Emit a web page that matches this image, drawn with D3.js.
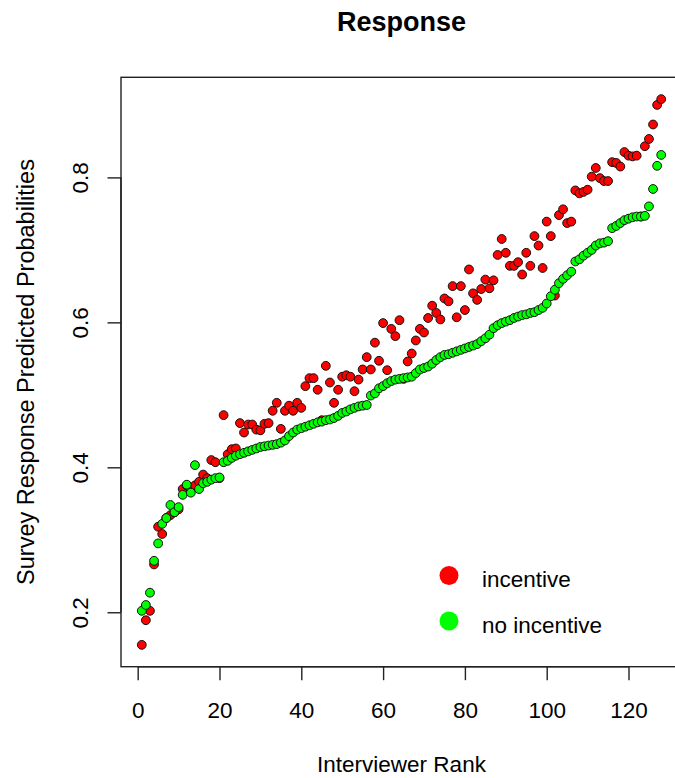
<!DOCTYPE html>
<html>
<head>
<meta charset="utf-8">
<script src="https://cdn.jsdelivr.net/npm/d3@7"></script>
<style>
  body { margin: 0; background: #fff; }
  text { font-family: "Liberation Sans", Arial, sans-serif; fill: #000; }
</style>
</head>
<body>
<script>
const width = 675;
const height = 778;

// predicted probabilities (interviewers 1..128)
var incentive = [
  0.155, 0.189, 0.202, 0.266, 0.318, 0.308, 0.330, 0.334, 0.338, 0.342,
  0.370, 0.375, 0.370, 0.375, 0.380, 0.390, 0.385, 0.410, 0.407, 0.385,
  0.472, 0.418, 0.425, 0.426, 0.461, 0.448, 0.459, 0.459, 0.452, 0.451,
  0.460, 0.461, 0.478, 0.489, 0.453, 0.478, 0.485, 0.478, 0.489, 0.482,
  0.512, 0.523, 0.523, 0.507, 0.465, 0.540, 0.517, 0.489, 0.507, 0.525,
  0.527, 0.525, 0.505, 0.521, 0.535, 0.552, 0.535, 0.572, 0.547, 0.599,
  0.534, 0.591, 0.581, 0.603, 0.522, 0.546, 0.557, 0.575, 0.591, 0.586,
  0.606, 0.623, 0.613, 0.604, 0.633, 0.629, 0.650, 0.607, 0.650, 0.617,
  0.673, 0.640, 0.631, 0.646, 0.659, 0.647, 0.658, 0.693, 0.715, 0.696,
  0.678, 0.678, 0.683, 0.666, 0.696, 0.678, 0.719, 0.706, 0.675, 0.739,
  0.719, 0.637, 0.748, 0.756, 0.737, 0.739, 0.782, 0.778, 0.780, 0.783,
  0.801, 0.813, 0.799, 0.795, 0.795, 0.821, 0.820, 0.815, 0.835, 0.830,
  0.829, 0.830, 0.746, 0.843, 0.853, 0.873, 0.900, 0.908
];
var noIncentive = [
  0.202, 0.210, 0.227, 0.271, 0.295, 0.322, 0.330, 0.348, 0.338, 0.345,
  0.362, 0.376, 0.365, 0.403, 0.370, 0.378, 0.380, 0.383, 0.385, 0.386,
  0.407, 0.409, 0.413, 0.416, 0.418, 0.420, 0.422, 0.424, 0.426, 0.428,
  0.429, 0.430, 0.431, 0.432, 0.434, 0.437, 0.443, 0.448, 0.452, 0.454,
  0.456, 0.458, 0.460, 0.462, 0.463, 0.465, 0.466, 0.468, 0.471, 0.475,
  0.477, 0.480, 0.482, 0.484, 0.485, 0.486, 0.499, 0.502, 0.509, 0.512,
  0.516, 0.519, 0.521, 0.522, 0.523, 0.524, 0.525, 0.530, 0.535, 0.537,
  0.539, 0.543, 0.548, 0.552, 0.555, 0.556, 0.558, 0.560, 0.562, 0.564,
  0.566, 0.568, 0.570, 0.574, 0.578, 0.583, 0.592, 0.596, 0.599, 0.601,
  0.603, 0.606, 0.608, 0.610, 0.611, 0.613, 0.614, 0.617, 0.620, 0.626,
  0.636, 0.645, 0.654, 0.660, 0.665, 0.670, 0.684, 0.687, 0.692, 0.696,
  0.700, 0.706, 0.709, 0.710, 0.712, 0.730, 0.733, 0.737, 0.741, 0.743,
  0.745, 0.746, 0.746, 0.747, 0.760, 0.784, 0.816, 0.831
];
var rank = d3.range(1, incentive.length + 1);

var xTicks = [0, 20, 40, 60, 80, 100, 120];
var yTicks = [0.2, 0.4, 0.6, 0.8];
var seriesNames = ["incentive", "no incentive"];
var seriesColors = ["#ff0000", "#00ff00"];

const plotLeft = 121, plotRight = 682, plotTop = 77.3, plotBottom = 666.7;
const fontSize = 22.5;

var svgContainer = d3
  .select("body")
  .append("svg")
  .attr("width", width)
  .attr("height", height);

// R style 4% padding on both axes
var xr = d3.extent(rank);
var xpad = (xr[1] - xr[0]) * 0.04;
var x = d3.scaleLinear().domain([xr[0] - xpad, xr[1] + xpad]).range([plotLeft, plotRight]);

var yr = d3.extent(incentive.concat(noIncentive));
var ypad = (yr[1] - yr[0]) * 0.04;
var y = d3.scaleLinear().domain([yr[0] - ypad, yr[1] + ypad]).range([plotBottom, plotTop]);

// points: incentive first, no incentive drawn over it
[incentive, noIncentive].forEach(function(vals, k) {
  svgContainer
    .append("g")
    .selectAll("circle")
    .data(vals)
    .enter()
    .append("circle")
    .attr("cx", (d, i) => x(rank[i]))
    .attr("cy", d => y(d))
    .attr("r", 4.4)
    .attr("fill", seriesColors[k])
    .attr("stroke", "#111")
    .attr("stroke-width", 1);
});

// box
svgContainer
  .append("rect")
  .attr("x", plotLeft)
  .attr("y", plotTop)
  .attr("width", plotRight - plotLeft)
  .attr("height", plotBottom - plotTop)
  .attr("fill", "none")
  .attr("stroke", "#222")
  .attr("stroke-width", 1.4);

var xAxis = d3.axisBottom(x).tickValues(xTicks).tickSize(13.5).tickFormat(d3.format("d"));
var gx = svgContainer
  .append("g")
  .attr("transform", "translate(0," + plotBottom + ")")
  .call(xAxis);
gx.select(".domain").attr("d", "M" + x(0) + ",0H" + x(120)).attr("stroke", "#222").attr("stroke-width", 1.4);
gx.selectAll(".tick line").attr("stroke", "#222").attr("stroke-width", 1.4);
gx.selectAll(".tick text")
  .attr("font-size", fontSize)
  .attr("font-family", "Liberation Sans, Arial, sans-serif")
  .attr("fill", "#111")
  .attr("dy", null)
  .attr("y", 51.5);

var yAxis = d3.axisLeft(y).tickValues(yTicks).tickSize(13.5).tickFormat(d3.format(".1f"));
var gy = svgContainer
  .append("g")
  .attr("transform", "translate(" + plotLeft + ",0)")
  .call(yAxis);
gy.select(".domain").attr("d", "M0," + y(0.2) + "V" + y(0.8)).attr("stroke", "#222").attr("stroke-width", 1.4);
gy.selectAll(".tick line").attr("stroke", "#222").attr("stroke-width", 1.4);
gy.selectAll(".tick text")
  .attr("font-size", fontSize)
  .attr("font-family", "Liberation Sans, Arial, sans-serif")
  .attr("fill", "#111")
  .attr("x", null)
  .attr("dy", null)
  .attr("text-anchor", "middle")
  .attr("transform", "translate(-33,0) rotate(-90)");

// titles
svgContainer
  .append("text")
  .attr("x", (plotLeft + plotRight) / 2)
  .attr("y", 31)
  .attr("text-anchor", "middle")
  .attr("font-size", 27)
  .attr("font-weight", "bold")
  .text("Response");

svgContainer
  .append("text")
  .attr("x", (plotLeft + plotRight) / 2)
  .attr("y", 772)
  .attr("text-anchor", "middle")
  .attr("font-size", fontSize)
  .attr("fill", "#111")
  .text("Interviewer Rank");

svgContainer
  .append("text")
  .attr("transform", "translate(34," + (plotTop + plotBottom) / 2 + ") rotate(-90)")
  .attr("text-anchor", "middle")
  .attr("font-size", 23.5)
  .attr("fill", "#111")
  .text("Survey Response Predicted Probabilities");

// legend
var legend = svgContainer
  .append("g")
  .selectAll("g")
  .data(seriesNames)
  .enter()
  .append("g")
  .attr("transform", (d, i) => "translate(449," + (575.5 + i * 45.5) + ")");

legend
  .append("circle")
  .attr("r", 9.5)
  .attr("fill", (d, i) => seriesColors[i]);

legend
  .append("text")
  .attr("x", 33)
  .attr("y", 11.5)
  .attr("font-size", fontSize)
  .attr("fill", "#111")
  .text(d => d);
</script>
</body>
</html>
